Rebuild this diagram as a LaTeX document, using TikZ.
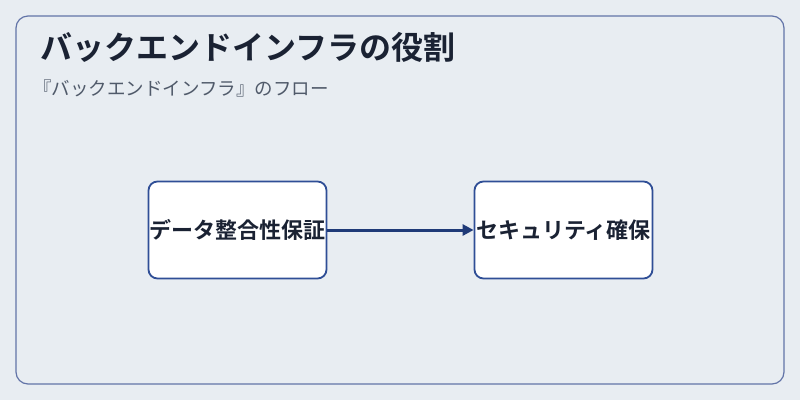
\documentclass[tikz,border=0pt]{standalone}
\usepackage{fontspec}
\newfontfamily\cjk{Noto Sans CJK JP}
\newfontfamily\cjkb{Noto Sans CJK JP Bold}
\definecolor{bg}{HTML}{E8EDF2}
\definecolor{frame}{HTML}{6274A8}
\definecolor{boxb}{HTML}{2F4E96}
\definecolor{arr}{HTML}{1F3A78}
\definecolor{ttl}{HTML}{1A2233}
\definecolor{sub}{HTML}{505A6A}
\usetikzlibrary{arrows.meta}
\begin{document}
\begin{tikzpicture}[x=1pt,y=-1pt,
  stepbox/.style={draw=boxb,line width=1.8pt,fill=white,rounded corners=9pt,minimum width=178pt,minimum height=97pt,inner sep=0pt,font=\cjkb\fontsize{22}{24}\selectfont,text=ttl}]
\fill[bg] (0,0) rectangle (800,400);
\useasboundingbox (0,0) rectangle (800,400);
\draw[frame,line width=1.2pt,rounded corners=12pt] (16,16) rectangle (784,384);
\node[anchor=west,text=ttl,font=\cjkb\fontsize{32}{34}\selectfont,inner sep=0pt] (title) at (40,47) {バックエンドインフラの役割};
\node[anchor=west,text=sub,font=\cjk\fontsize{18.5}{20}\selectfont,inner sep=0pt] (subt) at (33,88) {『バックエンドインフラ』のフロー};
\node[stepbox] (a) at (237.5,230) {データ整合性保証};
\node[stepbox] (b) at (563.5,230) {セキュリティ確保};
\draw[arr,line width=3pt,-{Triangle[length=11pt,width=11pt]}] (a) -- (b);
\end{tikzpicture}
\end{document}
